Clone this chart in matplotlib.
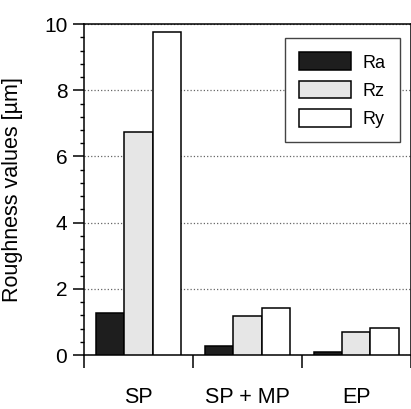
import matplotlib.pyplot as plt
import numpy as np
from matplotlib.ticker import MultipleLocator, FixedLocator

plt.rcParams['font.family'] = ['Liberation Sans', 'DejaVu Sans']

# data
categories = ['SP', 'SP + MP', 'EP']
series = ['Ra', 'Rz', 'Ry']
ra = [1.27, 0.27, 0.10]
rz = [6.74, 1.18, 0.70]
ry = [9.76, 1.41, 0.81]
values = [ra, rz, ry]
colors = ['#1e1e1e', '#e6e6e6', 'white']

fig = plt.figure(figsize=(4.11, 4.09), dpi=100)
ax = fig.add_axes([0.2044, 0.132, 0.795, 0.809])

x = np.arange(len(categories))
w = 0.26
for i, (name, vals, col) in enumerate(zip(series, values, colors)):
    ax.bar(x + (i - 1) * w, vals, width=w, color=col, edgecolor='black',
           linewidth=1.1, label=name, zorder=3)

ax.set_xlim(-0.5, 2.5)
ax.set_ylim(0, 10)

# y axis
ax.yaxis.set_major_locator(MultipleLocator(2))
ax.yaxis.set_minor_locator(MultipleLocator(0.4))
ax.tick_params(axis='y', which='major', direction='out', length=8, width=1.1,
               pad=4, labelsize=15)
ax.tick_params(axis='y', which='minor', direction='out', length=3, width=1)
ax.set_ylabel('Roughness values [µm]', fontsize=15.5)
ax.yaxis.set_label_coords(-0.187, 0.5)
ax.grid(axis='y', linestyle=':', color='#666666', linewidth=0.9, zorder=0)

# x axis: labels at centres, ticks at category boundaries
ax.set_xticks(x)
ax.set_xticklabels(categories)
ax.xaxis.set_minor_locator(FixedLocator([-0.5, 0.5, 1.5, 2.5]))
ax.tick_params(axis='x', which='major', length=0, pad=23, labelsize=15.5)
ax.tick_params(axis='x', which='minor', direction='out', length=9, width=1.1)

for s in ax.spines.values():
    s.set_linewidth(1.1)

leg = ax.legend(loc='upper right', bbox_to_anchor=(0.966, 0.958),
                borderaxespad=0, fontsize=13, fancybox=False, framealpha=1,
                edgecolor='#444444', handlelength=2.9, handleheight=1.15,
                borderpad=0.8, labelspacing=0.5, handletextpad=0.6)
leg.get_frame().set_linewidth(1)

fig.savefig('out.png', dpi=100)
